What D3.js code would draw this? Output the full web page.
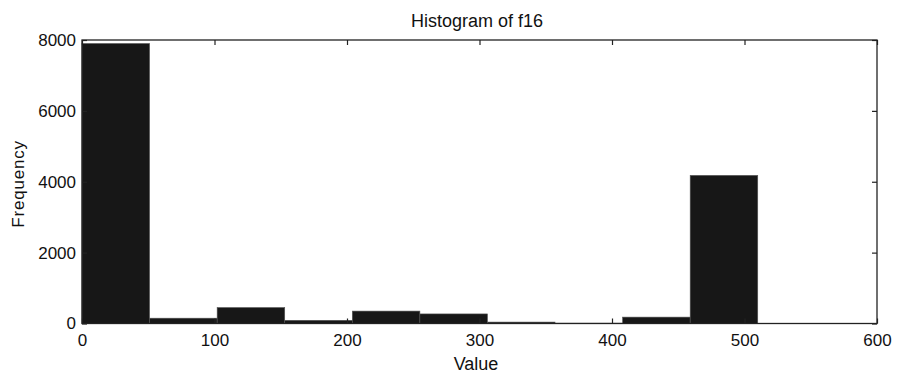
<!DOCTYPE html>
<html>
<head>
<meta charset="utf-8">
<script src="https://cdn.jsdelivr.net/npm/d3@7"></script>
<style>
  body { margin: 0; background: #fff; }
  text { font-family: "Liberation Sans", Arial, sans-serif; fill: #111; }
</style>
</head>
<body>
<svg id="chart" width="897" height="375"></svg>
<script>
// 直方图数据：10个区间
const binEdges = [0, 51, 102, 153, 204, 255, 306, 357, 408, 459, 510];
const counts = [7900, 150, 450, 90, 350, 270, 40, 10, 180, 4180];
const xTicks = [0, 100, 200, 300, 400, 500, 600];
const yTicks = [0, 2000, 4000, 6000, 8000];

const svg = d3.select("#chart");
const plotL = 82, plotR = 877, plotT = 40, plotB = 323.5;

const xScale = d3.scaleLinear().domain([0, 600]).range([plotL, plotR]);
const yScale = d3.scaleLinear().domain([0, 8000]).range([plotB, plotT]);

const bins = counts.map((c, i) => ({ x0: binEdges[i], x1: binEdges[i + 1], n: c }));

// 柱子
svg.selectAll(".bar")
  .data(bins)
  .enter()
  .append("rect")
  .attr("class", "bar")
  .attr("x", d => xScale(d.x0))
  .attr("y", d => yScale(d.n))
  .attr("width", d => xScale(d.x1) - xScale(d.x0))
  .attr("height", d => plotB - yScale(d.n))
  .style("fill", "#171717")
  .style("stroke", "#555")
  .style("stroke-width", 0.6);

// 坐标轴（刻度朝内，四边都有）
function styleAxis(g) {
  g.select(".domain").remove();
  g.selectAll("line").style("stroke", "#222").style("stroke-width", 1.2);
  g.selectAll("text").style("font-size", "17px").style("fill", "#111");
}

svg.append("g")
  .attr("transform", `translate(0,${plotB})`)
  .call(d3.axisBottom(xScale).tickValues(xTicks).tickSize(-5).tickPadding(10).tickFormat(d3.format("d")))
  .call(styleAxis);

svg.append("g")
  .attr("transform", `translate(0,${plotT})`)
  .call(d3.axisTop(xScale).tickValues(xTicks).tickSize(-5).tickFormat(""))
  .call(styleAxis);

svg.append("g")
  .attr("transform", `translate(${plotL},0)`)
  .call(d3.axisLeft(yScale).tickValues(yTicks).tickSize(-5).tickPadding(6).tickFormat(d3.format("d")))
  .call(styleAxis);

svg.append("g")
  .attr("transform", `translate(${plotR},0)`)
  .call(d3.axisRight(yScale).tickValues(yTicks).tickSize(-5).tickFormat(""))
  .call(styleAxis);

// 外框
svg.append("rect")
  .attr("x", plotL)
  .attr("y", plotT)
  .attr("width", plotR - plotL)
  .attr("height", plotB - plotT)
  .style("fill", "none")
  .style("stroke", "#222")
  .style("stroke-width", 1.3);

// 标题和轴标签
svg.append("text")
  .attr("x", 477)
  .attr("y", 27)
  .attr("text-anchor", "middle")
  .style("font-size", "18px")
  .text("Histogram of f16");

svg.append("text")
  .attr("x", 476)
  .attr("y", 370)
  .attr("text-anchor", "middle")
  .style("font-size", "18px")
  .text("Value");

svg.append("text")
  .attr("transform", "translate(24,184) rotate(-90)")
  .attr("text-anchor", "middle")
  .style("font-size", "17px")
  .style("letter-spacing", "0.8px")
  .text("Frequency");
</script>
</body>
</html>
